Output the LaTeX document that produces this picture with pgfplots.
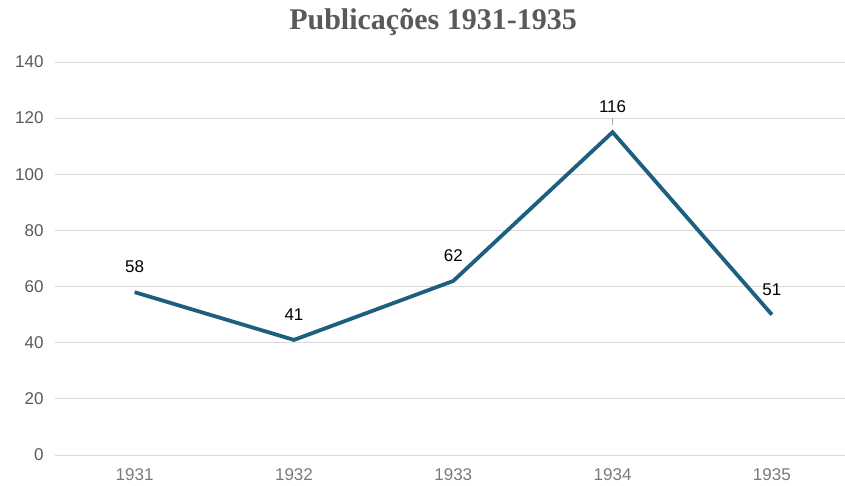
\documentclass[border=0pt]{standalone}
\usepackage{pgfplots}
\pgfplotsset{compat=1.18}
\usepackage{fontspec}
\setmainfont{Liberation Sans}
\newfontfamily\titlefont{Liberation Serif}
\definecolor{linec}{HTML}{1D5F7E}
\definecolor{gridc}{HTML}{D9D9D9}
\definecolor{tickc}{HTML}{595959}
\begin{document}
\begin{tikzpicture}[x=1pt,y=1pt]
\useasboundingbox (0,0) rectangle (845,485);
\node[font=\titlefont\bfseries\fontsize{30}{34}\selectfont, text=tickc] at (433,463) {Publicações 1931-1935};
\begin{axis}[
  at={(55pt,30pt)}, anchor=south west,
  scale only axis, width=790pt, height=393pt,
  xmin=-0.5, xmax=4.459, ymin=0, ymax=140,
  xtick={0,1,2,3,4}, xticklabels={1931,1932,1933,1934,1935},
  ytick={0,20,...,140},
  axis line style={draw=none},
  ymajorgrids, grid style={gridc, line width=0.9pt},
  major tick length=0pt,
  tick label style={text=tickc},
  yticklabel style={font=\fontsize{17}{19}\selectfont, xshift=-8pt},
  xticklabel style={font=\fontsize{17}{19}\selectfont, text=tickc!80, yshift=-10pt},
  /pgf/number format/assume math mode=true,
  clip=false,
  nodes near coords,
  point meta=explicit symbolic,
  every node near coord/.append style={font=\fontsize{17}{19}\selectfont, text=black, yshift=14pt},
]
\draw[gray!70, line width=0.8pt] (axis cs:3,117.5) -- (axis cs:3,120);
\addplot[linec, line width=3.8pt, mark=none] table[meta=label] {
x y label
0 58 58
1 41 41
2 62 62
3 115 116
4 50 51
};
\end{axis}
\end{tikzpicture}
\end{document}
